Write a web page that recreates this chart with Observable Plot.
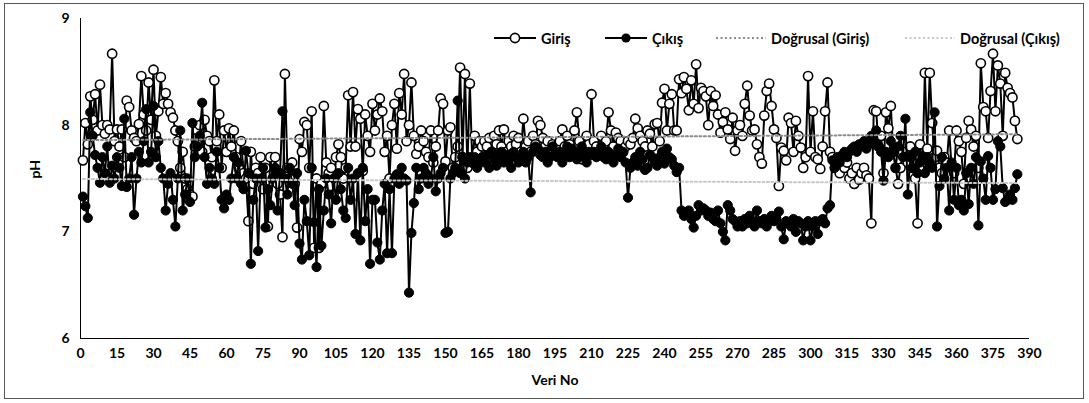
<!DOCTYPE html>
<html><head><meta charset="utf-8">
<script src="https://cdn.jsdelivr.net/npm/d3@7"></script>
<script src="https://cdn.jsdelivr.net/npm/@observablehq/plot@0.6"></script>
<style>
body{margin:0;background:#fff;}
#wrap{position:relative;width:1089px;height:403px;overflow:hidden}
#wrap svg{display:block}
#frame{position:absolute;left:4px;top:3px;width:1080px;height:396px;border:1px solid #555;pointer-events:none;box-sizing:border-box}
.lg{position:absolute;top:30px;height:16px;font:bold 14.5px Lato, sans-serif;color:#000;display:flex;align-items:center;white-space:nowrap}
.lg svg{margin-right:5px}
</style></head>
<body>
<div id="wrap"><div id="frame"></div></div>
<script>
const xTicks = d3.range(0, 391, 15);
const yTicks = [6, 7, 8, 9];
const seriesNames = ["Giriş", "Çıkış", "Doğrusal (Giriş)", "Doğrusal (Çıkış)"];

const giris = [
 7.67,8.02,7.82,8.27,8.05,8.29,7.95,8.38,8.0,7.92,8.0,7.96,8.67,7.85,7.96,
 7.8,7.96,7.7,8.23,8.17,7.95,7.88,7.85,8.01,8.46,8.1,7.95,8.4,8.05,8.52,
 7.9,8.13,8.45,8.2,8.3,8.2,8.12,8.07,7.95,7.85,7.6,7.75,7.5,7.4,7.35,
 7.33,7.8,7.95,8.0,7.75,8.05,7.9,7.85,7.7,8.42,7.85,8.1,7.6,7.95,7.75,
 7.97,7.8,7.95,7.7,7.6,7.85,7.55,7.5,7.1,7.75,7.45,7.6,7.55,7.7,7.4,
 7.6,7.05,7.7,7.5,7.7,7.45,7.35,6.95,8.48,7.6,7.5,7.65,7.45,7.04,7.87,
 7.75,8.03,8.0,7.6,8.13,6.85,7.5,6.85,7.45,8.18,7.65,7.55,7.6,7.35,7.7,
 7.82,7.7,7.5,7.6,8.28,7.8,8.31,7.8,8.15,8.06,7.57,8.1,7.9,7.75,8.2,
 7.95,8.1,8.25,8.13,7.75,7.9,7.5,8.0,8.2,7.78,8.3,8.1,8.48,7.85,8.0,
 8.4,7.9,7.73,7.8,7.95,7.85,7.75,7.7,7.95,7.65,7.8,7.95,8.25,8.2,7.66,
 7.95,7.98,7.6,7.7,7.8,8.54,7.7,8.48,7.6,8.39,7.65,7.9,7.75,7.85,7.8,
 7.85,7.8,7.88,7.75,7.9,7.82,7.95,7.8,7.96,7.75,7.85,7.8,7.9,7.82,7.88,
 7.75,8.06,7.8,7.85,7.75,7.9,7.82,8.04,8.0,7.88,7.8,7.85,7.75,7.82,7.8,
 7.78,7.85,7.96,7.8,7.9,7.82,7.75,7.95,8.12,7.85,7.68,7.8,7.9,7.82,8.29,
 7.85,7.8,7.75,7.9,7.82,7.85,8.12,7.95,7.8,7.93,7.88,7.85,7.75,7.8,7.85,
 7.82,7.88,8.06,7.97,7.9,7.85,7.8,7.95,7.92,7.8,8.01,8.02,7.85,8.21,8.34,
 7.95,8.2,8.29,7.95,7.95,8.43,8.3,8.45,8.34,8.14,8.42,8.2,8.57,8.16,8.35,
 8.32,8.27,8.0,8.32,8.18,8.28,8.1,7.93,8.03,8.12,7.96,7.87,8.07,7.76,7.95,
 8.0,7.9,8.2,8.37,8.09,7.95,7.96,7.82,7.7,7.64,8.09,8.32,8.39,8.18,7.96,
 7.88,7.43,7.79,7.76,7.67,8.07,8.02,7.75,8.04,7.9,7.79,7.6,7.7,8.46,7.75,
 8.13,7.7,7.68,7.59,7.8,8.13,8.4,7.75,7.7,7.6,7.65,7.55,7.7,7.6,7.65,
 7.5,7.55,7.45,7.6,7.49,7.55,7.6,7.53,7.5,7.08,8.14,8.13,7.8,7.9,7.55,
 8.12,7.97,8.18,7.75,7.6,7.45,7.6,7.75,7.7,7.65,7.8,7.6,7.5,7.08,7.82,
 7.6,8.49,7.78,8.49,8.02,7.7,7.76,7.6,7.55,7.7,7.65,7.95,7.6,7.55,7.95,
 7.85,7.75,7.45,7.88,8.04,7.96,7.8,7.9,7.6,8.58,8.17,8.13,7.88,8.32,8.67,
 8.13,8.56,8.39,7.9,8.49,8.35,8.3,8.26,8.04,7.87
];

const cikis = [
 7.33,7.24,7.13,8.12,7.9,7.72,7.6,7.46,7.7,7.55,7.8,7.46,7.62,7.5,7.7,
 7.6,7.43,8.06,7.42,7.5,7.7,7.16,7.5,7.75,7.65,7.85,8.15,7.65,7.75,8.18,
 7.7,7.85,7.6,7.5,7.2,7.45,7.55,7.3,7.05,7.5,7.95,7.2,7.35,7.5,7.28,
 8.02,7.7,7.8,7.9,8.21,7.7,7.45,7.6,7.5,7.45,7.75,7.6,7.3,7.22,7.35,
 7.3,7.5,7.7,7.5,7.65,7.45,7.4,7.76,7.55,6.7,7.3,7.5,6.82,7.5,7.6,
 7.04,7.4,7.25,7.5,7.6,7.2,7.55,8.13,7.5,7.35,7.6,7.45,7.25,7.55,6.89,
 6.74,7.3,7.1,6.78,7.6,7.09,6.67,7.4,6.87,7.2,7.5,7.35,7.08,7.5,7.3,
 7.55,7.4,7.2,7.13,7.6,7.3,7.5,6.98,7.55,6.92,7.6,7.1,7.4,6.7,7.3,
 7.3,6.9,6.74,7.2,7.45,6.8,7.4,6.8,7.5,7.54,7.45,7.6,7.5,7.48,6.43,
 6.99,7.27,7.6,7.4,7.5,7.6,7.55,7.45,7.5,7.7,7.38,7.5,7.55,7.6,6.99,
 7.0,7.5,7.55,7.6,8.23,7.55,7.7,7.5,7.65,7.7,7.65,7.7,7.6,7.65,7.7,
 7.65,7.72,7.6,7.75,7.68,7.62,7.7,7.75,7.65,7.72,7.68,7.6,7.75,7.7,7.65,
 7.7,7.75,7.65,7.7,7.37,7.75,7.8,7.78,7.72,7.7,7.75,7.65,7.7,7.8,7.72,
 7.7,7.75,7.65,7.72,7.8,7.7,7.78,7.75,7.68,7.72,7.8,7.7,7.65,7.75,7.72,
 7.75,7.7,7.72,7.8,7.7,7.68,7.75,7.7,7.65,7.72,7.78,7.7,7.75,7.65,7.32,
 7.6,7.65,7.7,7.62,7.75,7.68,7.58,7.6,7.72,7.7,7.65,7.62,7.7,7.75,7.64,
 7.78,7.7,7.68,7.62,7.56,7.6,7.2,7.15,7.18,7.2,7.12,7.04,7.15,7.25,7.2,
 7.22,7.2,7.15,7.18,7.12,7.1,7.2,7.08,7.0,6.92,7.25,7.2,7.12,7.1,7.05,
 7.1,7.05,7.12,7.08,7.15,7.1,7.05,7.2,7.1,7.08,7.12,7.05,7.1,7.15,7.1,
 7.12,7.19,7.05,6.93,7.1,7.08,7.05,7.12,7.0,7.1,7.08,6.92,7.05,7.1,6.92,
 7.05,7.1,6.98,7.1,7.12,7.08,7.22,7.25,7.67,7.6,7.7,7.65,7.72,7.75,7.7,
 7.75,7.78,7.8,7.75,7.82,7.8,7.85,7.78,7.82,7.9,7.85,7.95,7.8,7.75,7.48,
 7.75,7.7,7.85,7.75,7.6,7.8,7.9,7.7,8.06,7.35,7.7,7.6,7.75,7.55,7.65,
 7.7,7.55,7.7,7.65,7.6,8.12,7.05,7.43,7.7,7.5,7.6,7.2,7.65,7.3,7.6,
 7.25,7.3,7.2,7.55,7.26,7.6,7.45,7.7,7.06,7.66,7.5,7.3,7.71,7.6,7.3,
 7.4,7.85,7.8,7.41,7.28,7.3,7.35,7.3,7.41,7.54
];

const data = giris.map((g, i) => ({x: i + 1, g, c: cikis[i]}));

const chart = Plot.plot({
  width: 1089, height: 403,
  marginLeft: 80, marginRight: 60, marginTop: 18, marginBottom: 65,
  style: {fontFamily: "Lato, sans-serif", fontSize: "14px", fontWeight: "bold", color: "#000", background: "transparent"},
  x: {domain: [0, 390]},
  y: {domain: [6, 9]},
  marks: [
    Plot.axisX({ticks: xTicks, tickSize: 0, tickPadding: 10, tickFormat: d => String(d), label: null}),
    Plot.axisY({ticks: yTicks, tickSize: 0, tickPadding: 11, tickFormat: d => String(d), label: null}),
    Plot.ruleY([6], {stroke: "#000", strokeWidth: 1}),
    Plot.ruleX([0], {stroke: "#000", strokeWidth: 1}),
    Plot.line(data, {x: "x", y: "g", stroke: "#000", strokeWidth: 2}),
    Plot.dot(data, {x: "x", y: "g", r: 4.6, fill: "#fff", stroke: "#000", strokeWidth: 1.6}),
    Plot.line(data, {x: "x", y: "c", stroke: "#000", strokeWidth: 2}),
    Plot.dot(data, {x: "x", y: "c", r: 4.6, fill: "#000", stroke: "#000", strokeWidth: 1}),
    Plot.linearRegressionY(data, {x: "x", y: "g", stroke: "#8c8c8c", strokeWidth: 2, strokeDasharray: "2,2.5", ci: 0}),
    Plot.linearRegressionY(data, {x: "x", y: "c", stroke: "#c8c8c8", strokeWidth: 2, strokeDasharray: "2,2.5", ci: 0}),
    Plot.text(["pH"], {frameAnchor: "left", dx: -45, rotate: -90, fontSize: 14, fontWeight: "bold"}),
    Plot.text(["Veri No"], {frameAnchor: "bottom", dy: 46, fontSize: 14, fontWeight: "bold"})
  ]
});
const wrap = document.getElementById("wrap");
wrap.insertBefore(chart, wrap.firstChild);

function swatch(kind) {
  if (kind === "open") return '<svg width="42" height="14"><line x1="0" y1="7" x2="42" y2="7" stroke="#000" stroke-width="2"/><circle cx="21" cy="7" r="4.6" fill="#fff" stroke="#000" stroke-width="1.6"/></svg>';
  if (kind === "filled") return '<svg width="42" height="14"><line x1="0" y1="7" x2="42" y2="7" stroke="#000" stroke-width="2"/><circle cx="21" cy="7" r="4.6" fill="#000"/></svg>';
  const col = kind === "dg" ? "#8c8c8c" : "#c8c8c8";
  return '<svg width="50" height="14"><line x1="0" y1="7" x2="50" y2="7" stroke="' + col + '" stroke-width="2" stroke-dasharray="2,2.5"/></svg>';
}
const lg = [
  {left: 494, kind: "open", name: seriesNames[0]},
  {left: 605, kind: "filled", name: seriesNames[1]},
  {left: 716, kind: "dg", name: seriesNames[2]},
  {left: 905, kind: "dc", name: seriesNames[3]}
];
lg.forEach(d => {
  const el = document.createElement("div");
  el.className = "lg";
  el.style.left = d.left + "px";
  el.innerHTML = swatch(d.kind) + '<span>' + d.name + '</span>';
  wrap.appendChild(el);
});
</script>
</body></html>
